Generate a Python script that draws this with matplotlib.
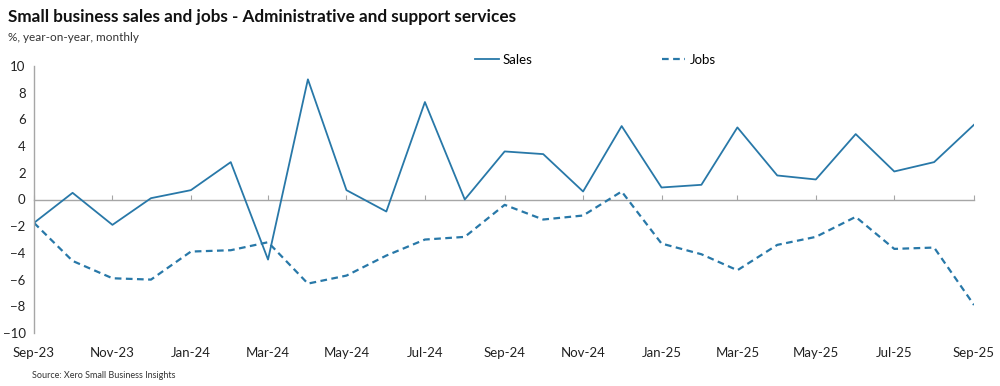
import pandas as pd
import matplotlib
matplotlib.use("Agg")
from matplotlib import pyplot as plt
import matplotlib.dates as mdates

plt.rcParams['font.family'] = ['Lato', 'DejaVu Sans']

# monthly, Sep-23 .. Sep-25
months = pd.date_range("2023-09-01", "2025-09-01", freq="MS")
sales = [-1.75, 0.5, -1.9, 0.1, 0.7, 2.8, -4.5, 9.0, 0.7, -0.9, 7.3, 0.0, 3.6,
         3.4, 0.6, 5.5, 0.9, 1.1, 5.4, 1.8, 1.5, 4.9, 2.1, 2.8, 5.6]
jobs = [-1.75, -4.6, -5.9, -6.0, -3.9, -3.8, -3.2, -6.3, -5.7, -4.2, -3.0, -2.8, -0.4,
        -1.5, -1.2, 0.6, -3.3, -4.1, -5.3, -3.4, -2.8, -1.3, -3.7, -3.6, -7.9]
y_ticks = list(range(-10, 11, 2))

line_col = "#2878a8"
grey = "#a6a6a6"

fig = plt.figure(figsize=(10, 3.86), dpi=100)
ax = fig.add_axes([0.034, 1 - 333 / 386, 0.94, (333 - 66) / 386])

ax.plot(months, sales, color=line_col, lw=1.3, label="Sales")
ax.plot(months, jobs, color=line_col, lw=1.6, ls=(0, (3, 2)), label="Jobs")

ax.set_xlim(months[0], months[-1])
ax.set_ylim(-10, 10)
ax.set_yticks(y_ticks)
ax.xaxis.set_major_locator(mdates.MonthLocator(bymonth=[1, 3, 5, 7, 9, 11]))
ax.xaxis.set_major_formatter(mdates.DateFormatter("%b-%y"))
ax.tick_params(axis="x", length=0, pad=10, labelsize=9.5, colors="#222222")
ax.tick_params(axis="y", length=0, pad=6, labelsize=9.5, colors="#222222")
for lab in ax.get_yticklabels():
    lab.set_horizontalalignment("right")

for side in ["top", "right", "bottom"]:
    ax.spines[side].set_visible(False)
ax.spines["left"].set_color(grey)
ax.spines["left"].set_linewidth(1.0)

# zero axis with month ticks
zero_ax = ax.secondary_xaxis(0, transform=ax.transData)
zero_ax.xaxis.set_major_locator(mdates.MonthLocator(bymonth=[1, 3, 5, 7, 9, 11]))
zero_ax.spines["bottom"].set_color(grey)
zero_ax.spines["bottom"].set_linewidth(1.0)
zero_ax.tick_params(axis="x", direction="in", length=3.5, color=grey, labelbottom=False)

ax.legend(loc="upper center", bbox_to_anchor=(0.597, 1.09), ncol=2, frameon=False,
          fontsize=9.5, columnspacing=9.8, handlelength=1.8, handletextpad=0.3)

fig.text(0.008, 0.955, "Small business sales and jobs - Administrative and support services",
         fontsize=12.3, fontweight="bold", va="center", color="#111111")
fig.text(0.008, 0.902, "%, year-on-year, monthly", fontsize=8.5, va="center", color="#333333")
fig.text(0.032, 0.028, "Source: Xero Small Business Insights", fontsize=6.5, va="center",
         color="#333333")

fig.savefig("out.png", dpi=100)
